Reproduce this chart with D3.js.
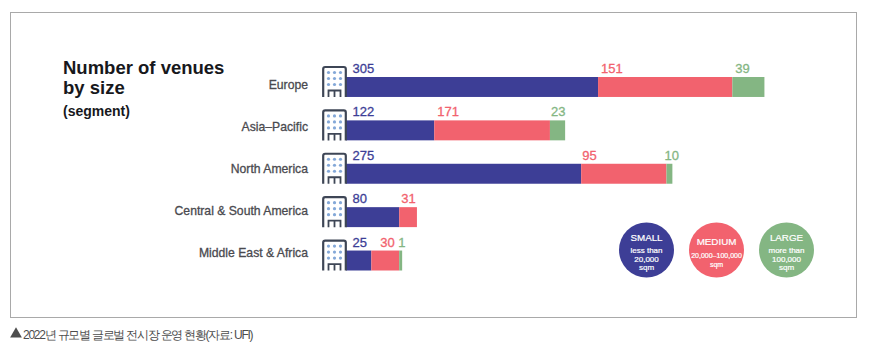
<!DOCTYPE html>
<html><head><meta charset="utf-8">
<script src="https://cdn.jsdelivr.net/npm/d3@7"></script>
<style>html,body{margin:0;padding:0;background:#fff}svg{display:block}text{font-family:"Liberation Sans",Arial,sans-serif}</style>
</head><body><div id="c"></div>
<script>
const categories=["Europe","Asia\u2013Pacific","North America","Central & South America","Middle East & Africa"];
// printed labels
const smallLabels=[305,122,275,80,25];
const mediumLabels=[151,171,95,31,30];
const largeLabels=[39,23,10,null,1];
// bar lengths as drawn in the picture (the source bars are not proportional to their labels)
const smallDrawn=[298.5,104.5,278.5,63,30];
const mediumDrawn=[159,137,101,21,33];
const largeDrawn=[38,18,7,0,3.5];
const seriesNames=["small","medium","large"];
const seriesColors=["#3d3e96","#f2626e","#84b683"];
const legendTitles=["SMALL","MEDIUM","LARGE"];
const legendLines=[["less than","20,000","sqm"],["20,000\u2013100,000","sqm"],["more than","100,000","sqm"]];

const W=872,H=353;
const svg=d3.select("#c").append("svg").attr("width",W).attr("height",H);
svg.append("rect").attr("x",10.5).attr("y",12.5).attr("width",846).attr("height",305).attr("fill","#fff").attr("stroke","#a9a9a9");

const x=d3.scaleLinear().domain([0,495]).range([346,764]);
const y=d3.scaleBand().domain(categories).range([77,270.5]).paddingInner(0.54).paddingOuter(0);
const yName=d3.scalePoint().domain(categories).range([88.5,256.5]);
// hand placement of the value labels, layout only: [small, medium, large] offset from segment start
const labelOffsets=[[6.5,3,3],[6.5,3,1],[6.5,1,-2],[6.5,2,0],[6.5,9,-1]];

const rows=categories.map((c,i)=>{
  const drawn=[smallDrawn[i],mediumDrawn[i],largeDrawn[i]];
  const labels=[smallLabels[i],mediumLabels[i],largeLabels[i]];
  let a=0;
  return {c,i,segs:drawn.map((d,k)=>{const s={k,x0:a,x1:a+d,label:labels[k]};a+=d;return s;})};
});
const g=svg.selectAll("g.row").data(rows).join("g").attr("class","row");
g.each(function(r){
  const n=d3.select(this),b=y(r.c),h=y.bandwidth();
  n.selectAll("rect.seg").data(r.segs.filter(s=>s.x1>s.x0)).join("rect").attr("class","seg")
    .attr("x",s=>x(s.x0)).attr("width",s=>x(s.x1)-x(s.x0)).attr("y",b).attr("height",h)
    .attr("fill",s=>seriesColors[s.k]);
  n.selectAll("text.val").data(r.segs.filter(s=>s.label!=null)).join("text").attr("class","val")
    .attr("x",s=>x(s.x0)+labelOffsets[r.i][s.k]).attr("y",b-4).attr("font-size",13)
    .attr("fill",s=>seriesColors[s.k]).attr("stroke",s=>seriesColors[s.k]).attr("stroke-width",0.3)
    .text(s=>s.label);
  n.append("text").attr("x",308).attr("y",yName(r.c)).attr("text-anchor","end").attr("font-size",12.2)
    .attr("fill","#4a4a4f").attr("stroke","#4a4a4f").attr("stroke-width",0.3).text(r.c);
  // building icon
  const ic=n.append("g").attr("transform",`translate(322,${b-11})`);
  ic.append("path").attr("d","M1.2,31V3Q1.2,1 3.2,1H21.8Q23.8,1 23.8,3V31").attr("fill","none").attr("stroke","#3e4656").attr("stroke-width",2.2);
  for(let ix=0;ix<3;ix++)for(let iy=0;iy<3;iy++)
    ic.append("circle").attr("cx",6.5+ix*6).attr("cy",6.5+iy*6).attr("r",1.6).attr("fill","#84a8d8");
  ic.append("path").attr("d","M6.5,31V24.5H18.5V31M12.5,24.5V31").attr("fill","none").attr("stroke","#3e4656").attr("stroke-width",1.8);
});

// title
const t=svg.append("g").attr("fill","#17181c").attr("font-weight",700);
t.append("text").attr("x",63).attr("y",74).attr("font-size",18.5).text("Number of venues");
t.append("text").attr("x",63).attr("y",94).attr("font-size",18.5).text("by size");
t.append("text").attr("x",63).attr("y",116).attr("font-size",14).text("(segment)");

// legend
const lx=[646.5,716.5,786.5];
seriesNames.forEach((n,i)=>{
  const l=svg.append("g").attr("transform",`translate(${lx[i]},250)`).attr("text-anchor","middle").attr("fill","#fff").attr("stroke","#fff").attr("stroke-width",0.2);
  l.append("circle").attr("r",27.5).attr("fill",seriesColors[i]).attr("stroke","none");
  const lines=legendLines[i];
  const three=lines.length==3;
  l.append("text").attr("y",three?-9:-5).attr("font-size",9.8).text(legendTitles[i]);
  lines.forEach((s,j)=>l.append("text").attr("y",(three?3:8)+j*8.5).attr("font-size",three?8:7).text(s));
});

// caption
const cap=svg.append("g");
cap.append("path").attr("d",d3.symbol(d3.symbolTriangle,60)()).attr("transform","translate(16,334)").attr("fill","#4d4d4d");
cap.append("text").attr("x",23).attr("y",338.5).attr("font-size",12).attr("letter-spacing",-1.25)
  .attr("fill","#4d4d4d").attr("font-family","'Noto Sans CJK KR'").text("2022년 규모별 글로벌 전시장 운영 현황(자료: UFI)");
</script></body></html>
